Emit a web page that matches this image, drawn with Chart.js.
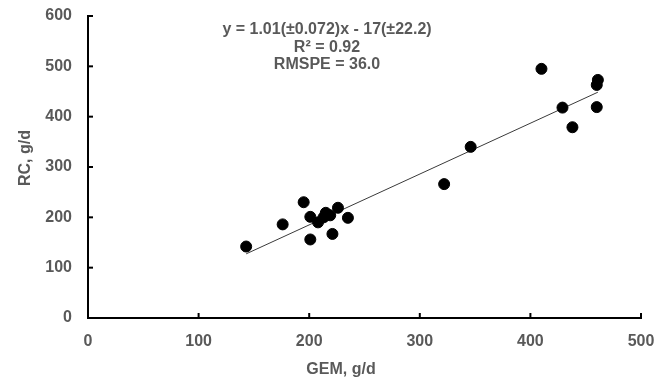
<!DOCTYPE html>
<html>
<head>
<meta charset="utf-8">
<script src="https://cdn.jsdelivr.net/npm/chart.js@4.4.1/dist/chart.umd.min.js"></script>
<style>
  html, body { margin: 0; padding: 0; background: #fff; }
  #wrap { width: 664px; height: 383px; }
</style>
</head>
<body>
<div id="wrap"><canvas id="c" width="664" height="383"></canvas></div>
<script>
// GEM (x) and RC (y) measurements, g/d
const gem = [143, 176, 195, 201, 201, 208, 213, 215, 219, 226, 221, 235, 322, 346, 410, 429, 438, 461, 460, 460];
const rc  = [142, 186, 230, 201, 156, 190, 200, 209, 204, 219, 167, 199, 266, 340, 495, 418, 379, 473, 463, 419];

// Fitted regression: y = slope * x + intercept
const slope = 1.01;
const intercept = -17;
const fitText = ['y = 1.01(±0.072)x - 17(±22.2)', 'R² = 0.92', 'RMSPE = 36.0'];

const xTicks = [0, 100, 200, 300, 400, 500];
const yTicks = [0, 100, 200, 300, 400, 500, 600];
const xTitle = 'GEM, g/d';
const yTitle = 'RC, g/d';

const points = gem.map((g, i) => ({ x: g, y: rc[i] }));
const xLo = Math.min(...gem), xHi = Math.max(...gem);
const fitLine = [
  { x: xLo, y: slope * xLo + intercept },
  { x: xHi, y: slope * xHi + intercept }
];

const GREY = '#595959';
const FONT = '"Liberation Sans", Arial, sans-serif';

// inward tick marks, axis titles and the fit statistics
const decor = {
  id: 'decor',
  afterDraw(chart) {
    const { ctx, chartArea: a, scales: { x, y } } = chart;
    ctx.save();
    ctx.strokeStyle = '#000';
    ctx.lineWidth = 2;
    xTicks.forEach(v => {
      const px = x.getPixelForValue(v);
      ctx.beginPath(); ctx.moveTo(px, a.bottom); ctx.lineTo(px, a.bottom - 5); ctx.stroke();
    });
    yTicks.forEach(v => {
      const py = y.getPixelForValue(v);
      ctx.beginPath(); ctx.moveTo(a.left, py); ctx.lineTo(a.left + 5, py); ctx.stroke();
    });

    ctx.fillStyle = GREY;
    ctx.font = 'bold 16px ' + FONT;
    ctx.textAlign = 'center';
    ctx.textBaseline = 'middle';
    ctx.fillText(xTitle, 341, 370);
    ctx.save();
    ctx.translate(26, 158);
    ctx.rotate(-Math.PI / 2);
    ctx.fillText(yTitle, 0, 0);
    ctx.restore();

    ctx.font = 'bold 16px ' + FONT;
    fitText.forEach((t, i) => ctx.fillText(t, 327, 30 + i * 17.5));
    ctx.restore();
  }
};

new Chart(document.getElementById('c'), {
  type: 'scatter',
  data: {
    datasets: [
      {
        label: 'fit',
        type: 'line',
        data: fitLine,
        borderColor: '#3a3a3a',
        borderWidth: 1,
        pointRadius: 0,
        fill: false,
        order: 2
      },
      {
        label: 'RC',
        data: points,
        backgroundColor: '#000',
        borderColor: '#000',
        pointRadius: 5.5,
        pointHoverRadius: 5.5,
        order: 1
      }
    ]
  },
  options: {
    responsive: false,
    animation: false,
    events: [],
    layout: { padding: { left: 0, right: 23, top: 16, bottom: 0 } },
    plugins: { legend: { display: false }, tooltip: { enabled: false } },
    scales: {
      x: {
        type: 'linear',
        min: 0, max: 500,
        afterBuildTicks: s => { s.ticks = xTicks.map(v => ({ value: v })); },
        afterFit: s => { s.height = 65; s.paddingLeft = 0; s.paddingRight = 0; },
        grid: { display: false, drawTicks: false },
        border: { display: true, color: '#000', width: 2 },
        ticks: { color: GREY, font: { family: FONT, size: 16, weight: 'bold' }, padding: 14, maxRotation: 0 }
      },
      y: {
        type: 'linear',
        min: 0, max: 600,
        afterBuildTicks: s => { s.ticks = yTicks.map(v => ({ value: v })); },
        afterFit: s => { s.width = 88; s.paddingTop = 0; s.paddingBottom = 0; },
        grid: { display: false, drawTicks: false },
        border: { display: true, color: '#000', width: 2 },
        ticks: { color: GREY, font: { family: FONT, size: 16, weight: 'bold' }, padding: 16 }
      }
    }
  },
  plugins: [decor]
});
</script>
</body>
</html>
